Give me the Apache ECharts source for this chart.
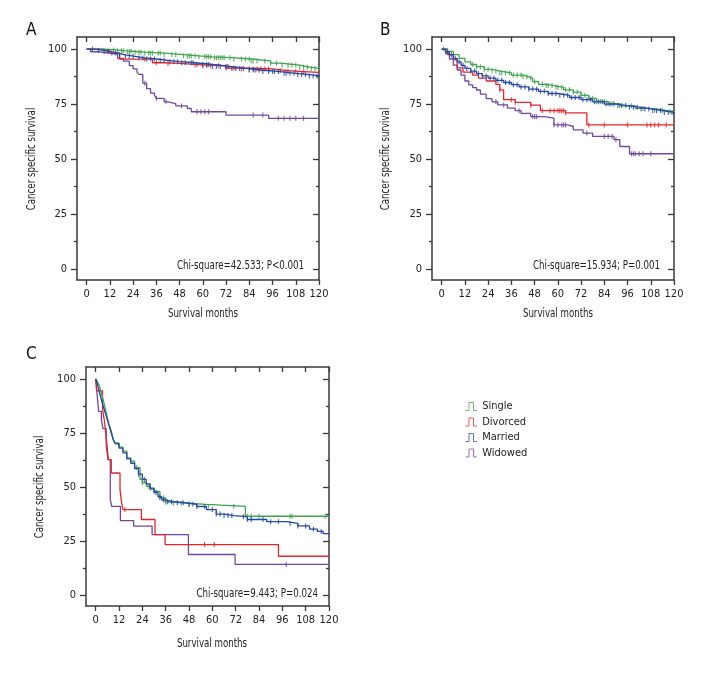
<!DOCTYPE html>
<html>
<head>
<meta charset="utf-8">
<script src="https://cdn.jsdelivr.net/npm/echarts@6/dist/echarts.min.js"></script>
<style>
html, body { margin: 0; padding: 0; background: #fff; }
#main { width: 708px; height: 678px; }
</style>
</head>
<body>
<div id="main"></div>
<script>
// groups and colours
var groups = ['Single', 'Divorced', 'Married', 'Widowed'];
var colors = ['#3fa34d', '#e3262b', '#2748a0', '#7148a0'];
var xTicks = [0, 12, 24, 36, 48, 60, 72, 84, 96, 108, 120];
var yTicks = [0, 25, 50, 75, 100];
var yMinor = [12.5, 37.5, 62.5, 87.5];
var panelLetters = ['A', 'B', 'C'];
var chiTexts = ['Chi-square=42.533; P<0.001', 'Chi-square=15.934; P=0.001', 'Chi-square=9.443; P=0.024'];

// panel A: months / survival (%)
var aSingleT = [0, 10, 15, 20, 25, 30, 40, 50, 58, 65, 75, 85, 95, 100, 110, 115, 120];
var aSingleS = [100, 99.6, 99.2, 98.9, 98.6, 98.2, 97.5, 96.9, 96.5, 96.1, 95.5, 94.6, 93.6, 92.7, 91.8, 91.2, 90.8];
var aSingleC = [14, 16, 18, 19, 21, 22, 23, 25, 27, 28, 30, 32, 33, 34, 37, 38, 40, 44, 46, 50, 52, 53, 54, 56, 58, 61, 62, 63, 64, 66, 67, 68, 69, 70, 71, 74, 76, 80, 82, 84, 85, 86, 88, 92, 95, 98, 101, 104, 106, 108, 110, 112, 114, 116, 118];
var aDivT = [0, 8, 12, 17, 34, 40, 48, 60, 72, 80, 96, 104, 112, 120];
var aDivS = [100, 99.2, 98.2, 95.4, 93.8, 93.5, 92.8, 92.4, 91.4, 91, 90.2, 89.8, 89.4, 89.2];
var aDivC = [30, 36, 42, 56, 60, 62, 64, 68, 72, 76, 80, 84, 86, 88, 90, 92, 94, 100, 104, 108, 112];
var aMarT = [0, 4, 8, 12, 16, 20, 25, 30, 36, 42, 48, 56, 65, 74, 82, 90, 100, 108, 115, 120];
var aMarS = [100, 99.5, 98.9, 98.2, 97.4, 96.7, 96.0, 95.5, 94.9, 94.3, 93.8, 93.0, 92.1, 91.2, 90.5, 89.8, 89.0, 88.4, 87.8, 87.4];
var aMarC = [3, 6, 9, 11, 13, 15, 17, 20, 22, 24, 27, 29, 31, 33, 35, 38, 40, 43, 45, 47, 49, 51, 54, 55, 57, 60, 62, 63, 65, 67, 69, 72, 73, 75, 77, 79, 81, 84, 86, 87, 89, 91, 94, 96, 97, 99, 102, 103, 105, 107, 109, 111, 113, 115, 117, 119];
var aWidT = [0, 2, 6, 12, 16, 19, 22, 24, 26, 27, 29, 31, 33, 35, 36, 40, 42, 46, 52, 54, 72, 94, 120];
var aWidS = [100, 98.8, 98.2, 97.6, 95.8, 94.5, 92.5, 91, 89.5, 88.5, 84.5, 82, 80, 79, 77.6, 76, 75.2, 74.2, 73, 71.5, 70, 68.5, 68.5];
var aWidC = [30, 36, 41, 49, 57, 59, 61, 63, 86, 91, 99, 102, 105, 108, 112];

// panel B
var bSingleT = [0, 3, 6, 9, 12, 15, 18, 22, 26, 30, 36, 42, 45, 47, 50, 54, 58, 63, 68, 72, 76, 80, 86, 92, 100, 108, 115, 120];
var bSingleS = [100, 99, 97.5, 95.8, 94.2, 93, 92, 90.8, 90, 89.2, 88.2, 87.4, 86.8, 85.2, 84, 83.4, 82.6, 81.5, 80.4, 79, 77.6, 76.2, 75.2, 74.2, 73, 72.2, 71.5, 71];
var bSingleC = [1, 16, 18, 20, 22, 24, 26, 28, 30, 31, 33, 35, 37, 39, 41, 42, 44, 46, 48, 52, 54, 55, 57, 59, 60, 62, 64, 66, 68, 70, 72, 74, 76, 78, 80, 82, 84, 86, 88, 92, 98, 104, 110, 114, 118];
var bDivT = [0, 3, 6, 8, 11, 16, 19, 23, 28, 30, 32, 38, 46, 51, 64, 75, 120];
var bDivS = [100, 97.5, 95.5, 91.5, 89.5, 88.2, 86.8, 85.5, 84, 81.5, 77, 75.8, 74.5, 72, 71, 65.5, 65.5];
var bDivC = [30, 36, 38, 46, 52, 56, 58, 60, 61, 62, 63, 64, 76, 84, 96, 106, 108, 110, 112, 116];
var bMarT = [0, 2, 4, 6, 8, 10, 12, 15, 18, 21, 24, 28, 32, 36, 40, 45, 50, 55, 60, 66, 72, 78, 84, 90, 96, 102, 108, 114, 120];
var bMarS = [100, 98.8, 97.4, 95.8, 94.2, 92.6, 91.2, 90, 88.8, 87.8, 86.8, 85.8, 84.8, 83.8, 82.8, 81.8, 80.8, 79.8, 79, 78, 77, 76, 75, 74.3, 73.6, 72.8, 72, 71.2, 70.4];
var bMarC = [3, 5, 7, 9, 11, 13, 15, 17, 19, 21, 23, 25, 27, 29, 31, 33, 35, 37, 39, 41, 43, 45, 47, 49, 51, 53, 55, 57, 59, 61, 63, 65, 67, 69, 71, 73, 75, 77, 79, 81, 83, 85, 87, 89, 91, 93, 95, 97, 99, 101, 103, 105, 107, 109, 111, 113, 115, 117, 119];
var bWidT = [0, 2, 4, 6, 8, 10, 12, 14, 16, 18, 20, 23, 26, 29, 34, 38, 41, 46, 53, 58, 65, 68, 73, 78, 89, 92, 97, 120];
var bWidS = [100, 98, 95.5, 92.7, 90.5, 88.2, 85.5, 83.7, 82.5, 81.4, 79.5, 77.5, 76, 74.6, 73.2, 72, 70.8, 69.3, 68.6, 65.5, 64.8, 63.3, 61.8, 60.3, 58.8, 55.7, 52.4, 52.4];
var bWidC = [28, 32, 40, 47, 48, 49, 58, 60, 62, 63, 64, 75, 84, 86, 88, 90, 98, 99, 100, 102, 104, 108];

// panel C
var cSingleT = [0, 1, 2, 3, 4, 5, 6, 7, 8, 9, 10, 12, 14, 16, 18, 20, 22.8, 24, 26, 28, 30, 33, 36, 40, 47, 57, 77, 120];
var cSingleS = [100, 98.5, 96.5, 93, 89.7, 86, 82, 78.5, 75.8, 72, 70.4, 68.5, 66.6, 63.5, 62, 59, 53.5, 52, 50.4, 49, 48, 45, 43, 42.5, 42, 41.1, 36.5, 36.5];
var cSingleC = [21, 24, 27, 30, 33, 35, 36, 40, 44, 48, 58, 71, 78, 80, 84, 100, 101, 118];
var cDivT = [0, 0.5, 3.5, 4.5, 5.5, 6.5, 8, 12.5, 13.3, 14, 23.5, 30.5, 35.7, 94, 120];
var cDivS = [100, 94.5, 86, 80.4, 72, 62.7, 56.5, 48.8, 42.7, 39.6, 35, 28, 23.4, 18, 18];
var cDivC = [15, 56, 61];
var cMarT = [0, 1, 2, 3, 4, 5, 6, 7, 8, 9, 10, 12, 14, 16, 18, 20, 22, 24, 26, 28, 30, 32, 34, 36, 40, 47, 52, 57, 62, 66, 71, 78, 88, 98, 104, 110, 114, 117, 120];
var cMarS = [100, 97, 93.5, 90, 87, 84, 81, 78, 75, 72, 70, 68, 65.8, 63, 61, 58.5, 56, 53.5, 51.5, 49.5, 47.5, 45.5, 44, 43.2, 42.7, 42, 41, 39.6, 37.5, 36.8, 36.3, 35, 34, 33.2, 32, 30.5, 29.5, 28.5, 28];
var cMarC = [22, 25, 28, 31, 33, 35, 37, 39, 42, 45, 48, 50, 52, 56, 60, 62, 64, 66, 68, 70, 76, 78, 80, 86, 90, 94, 100, 104, 108, 112, 116];
var cWidT = [0, 0.5, 1.5, 2.9, 3.7, 5.4, 6.3, 7.5, 8.2, 12.7, 19.5, 29, 47.7, 71.7, 120];
var cWidS = [100, 95, 85, 81.2, 77, 69, 62.7, 44.2, 41.1, 34.5, 31.9, 28, 18.8, 14.2, 14.2];
var cWidC = [98];

var panels = [
    [[aSingleT, aSingleS, aSingleC], [aDivT, aDivS, aDivC], [aMarT, aMarS, aMarC], [aWidT, aWidS, aWidC]],
    [[bSingleT, bSingleS, bSingleC], [bDivT, bDivS, bDivC], [bMarT, bMarS, bMarC], [bWidT, bWidS, bWidC]],
    [[cSingleT, cSingleS, cSingleC], [cDivT, cDivS, cDivC], [cMarT, cMarS, cMarC], [cWidT, cWidS, cWidC]]
];

var FONT = "'DejaVu Sans Condensed', 'Liberation Sans', sans-serif";
var grids = [
    { left: 77, top: 37, width: 242, height: 243 },
    { left: 432, top: 37, width: 242, height: 243 },
    { left: 86, top: 367, width: 243, height: 239 }
];

function survAt(t, s, x) {
    var v = s[0];
    for (var i = 0; i < t.length; i++) {
        if (t[i] <= x) v = s[i];
    }
    return v;
}

var lineCol = '#3a3a3a';
var xAxes = [], yAxes = [], series = [];

grids.forEach(function (g, gi) {
    xAxes.push({
        type: 'value', gridIndex: gi, position: 'bottom', min: -5, max: 120,
        axisLine: { onZero: false, lineStyle: { color: lineCol, width: 1.5 } },
        axisTick: { customValues: xTicks, length: 5, lineStyle: { color: lineCol, width: 1.3 } },
        axisLabel: { customValues: xTicks, margin: 9, fontFamily: FONT, fontSize: 11, color: '#222' },
        splitLine: { show: false }
    });
    xAxes.push({
        type: 'value', gridIndex: gi, position: 'top', min: -5, max: 120,
        axisLine: { onZero: false, lineStyle: { color: lineCol, width: 1.5 } },
        axisTick: { customValues: xTicks, inside: true, length: 5, lineStyle: { color: lineCol, width: 1.3 } },
        axisLabel: { show: false },
        splitLine: { show: false }
    });
    yAxes.push({
        type: 'value', gridIndex: gi, position: 'left', min: -5, max: 105.5,
        axisLine: { onZero: false, lineStyle: { color: lineCol, width: 1.5 } },
        axisTick: { customValues: yTicks, length: 6, lineStyle: { color: lineCol, width: 1.3 } },
        axisLabel: { customValues: yTicks, margin: 10, fontFamily: FONT, fontSize: 11, color: '#222' },
        splitLine: { show: false }
    });
    yAxes.push({
        type: 'value', gridIndex: gi, position: 'left', min: -5, max: 105.5,
        axisLine: { show: false, onZero: false },
        axisTick: { customValues: yMinor, length: 3, lineStyle: { color: lineCol, width: 1.3 } },
        axisLabel: { show: false },
        splitLine: { show: false }
    });
    yAxes.push({
        type: 'value', gridIndex: gi, position: 'right', min: -5, max: 105.5,
        axisLine: { onZero: false, lineStyle: { color: lineCol, width: 1.5 } },
        axisTick: { customValues: yTicks, inside: true, length: 6, lineStyle: { color: lineCol, width: 1.3 } },
        axisLabel: { show: false },
        splitLine: { show: false }
    });
    yAxes.push({
        type: 'value', gridIndex: gi, position: 'right', min: -5, max: 105.5,
        axisLine: { show: false, onZero: false },
        axisTick: { customValues: yMinor, inside: true, length: 3, lineStyle: { color: lineCol, width: 1.3 } },
        axisLabel: { show: false },
        splitLine: { show: false }
    });

    // drawing order: widowed, divorced, single, married on top
    [3, 1, 0, 2].forEach(function (k, order) {
        var d = panels[gi][k];
        series.push({
            name: groups[k], type: 'line', step: 'end',
            xAxisIndex: gi * 2, yAxisIndex: gi * 4,
            data: d[0].map(function (x, i) { return [x, d[1][i]]; }),
            symbol: 'none', silent: true, z: 2 + order,
            lineStyle: { color: colors[k], width: 1.3 },
            itemStyle: { color: colors[k] }
        });
        series.push({
            name: groups[k], type: 'scatter',
            xAxisIndex: gi * 2, yAxisIndex: gi * 4,
            data: d[2].map(function (x) { return [x, survAt(d[0], d[1], x)]; }),
            symbol: 'rect', symbolSize: [1.2, 5], silent: true, z: 2 + order,
            itemStyle: { color: colors[k] }
        });
    });
});

// text positions (px)
var chiPos = [[304, 266], [660, 266], [318, 594]];
var letterPos = [[26, 22], [380, 22], [26, 346]];
var xNamePos = [[203, 314], [558, 314], [212, 644]];
var yNamePos = [[32, 159], [386, 159], [40, 487]];
var graphic = [];
panelLetters.forEach(function (L, i) {
    graphic.push({ type: 'text', left: letterPos[i][0], top: letterPos[i][1],
        style: { text: L, fontFamily: FONT, fontSize: 17, fill: '#111' } });
    graphic.push({ type: 'text', x: chiPos[i][0], y: chiPos[i][1], scaleX: 0.74,
        style: { text: chiTexts[i], fontFamily: FONT, fontSize: 13, fill: '#222', align: 'right', verticalAlign: 'middle' } });
    graphic.push({ type: 'text', x: xNamePos[i][0], y: xNamePos[i][1], scaleX: 0.74,
        style: { text: 'Survival months', fontFamily: FONT, fontSize: 13, fill: '#222', align: 'center', verticalAlign: 'middle' } });
    graphic.push({ type: 'text', x: yNamePos[i][0], y: yNamePos[i][1], scaleX: 0.74, rotation: Math.PI / 2,
        style: { text: 'Cancer specific survival', fontFamily: FONT, fontSize: 13, fill: '#222', align: 'center', verticalAlign: 'middle' } });
});

var stepIcon = 'path://M0,8 L3,8 L3,1 L7,1 L7,8 L10,8';
var option = {
    animation: false,
    backgroundColor: '#fff',
    grid: grids,
    xAxis: xAxes,
    yAxis: yAxes,
    series: series,
    graphic: graphic,
    legend: {
        orient: 'vertical', left: 460, top: 396,
        itemWidth: 12, itemHeight: 8, itemGap: 4.5,
        selectedMode: false,
        textStyle: { fontFamily: FONT, fontSize: 11, color: '#222' },
        data: groups.map(function (n, i) {
            return { name: n, icon: stepIcon,
                itemStyle: { color: 'rgba(0,0,0,0)', borderColor: colors[i], borderWidth: 1, opacity: 0.75 } };
        })
    }
};

var myChart = echarts.init(document.getElementById('main'));
myChart.setOption(option);
window.addEventListener('resize', function () {
    myChart.resize();
});
</script>
</body>
</html>
